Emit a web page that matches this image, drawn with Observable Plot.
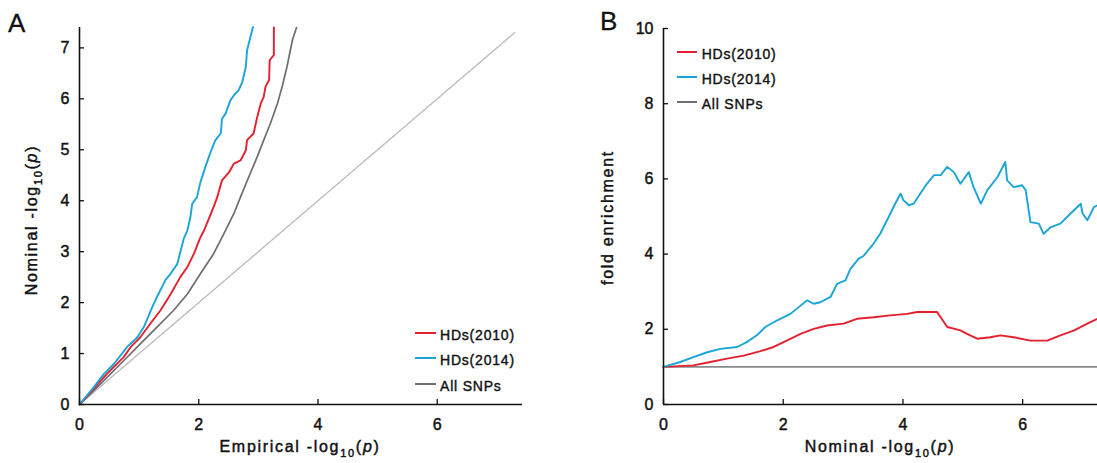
<!DOCTYPE html>
<html><head><meta charset="utf-8">
<script src="https://cdn.jsdelivr.net/npm/d3@7"></script>
<script src="https://cdn.jsdelivr.net/npm/@observablehq/plot@0.6"></script>
<style>
html,body{margin:0;padding:0;background:#fff;}
#wrap{position:relative;width:1097px;height:463px;overflow:hidden;font-family:"Liberation Sans",Arial,sans-serif;color:#111;}
.panel{position:absolute;top:0;}
.panel text{stroke:#111;stroke-width:0.45px;}
.letter{position:absolute;font-size:26px;line-height:26px;-webkit-text-stroke:0.3px #111;}
.sw{position:absolute;height:2px;}
.lt{position:absolute;font-size:14px;line-height:14px;letter-spacing:0.8px;white-space:nowrap;-webkit-text-stroke:0.4px #111;}
</style></head><body><div id="wrap"></div>
<script>
// ---------- Panel A: QQ curves (x = empirical -log10 p, y = nominal -log10 p)
const qqEmp2014 = [0,0.24,0.41,0.58,0.80,0.97,1.08,1.22,1.30,1.44,1.53,1.64,1.75,1.81,1.86,1.89,1.97,2.03,2.11,2.17,2.23,2.28,2.37,2.39,2.45,2.53,2.59,2.67,2.73,2.79,2.81,2.84,2.91];
const qqNom2014 = [0,0.34,0.60,0.80,1.13,1.32,1.52,1.91,2.11,2.44,2.57,2.76,3.26,3.42,3.68,3.94,4.07,4.37,4.66,4.86,5.05,5.19,5.32,5.61,5.71,5.97,6.07,6.17,6.33,6.63,6.95,7.09,7.41];
const qqEmp2010 = [0,0.46,0.74,0.86,1.02,1.19,1.36,1.53,1.69,1.81,1.92,2.02,2.09,2.17,2.25,2.31,2.39,2.51,2.59,2.70,2.79,2.81,2.92,2.98,3.04,3.09,3.12,3.18,3.19,3.26,3.26];
const qqNom2010 = [0,0.60,0.93,1.13,1.32,1.59,1.85,2.17,2.50,2.70,2.96,3.26,3.42,3.65,3.88,4.07,4.40,4.56,4.73,4.79,4.99,5.19,5.32,5.64,5.91,6.04,6.24,6.37,6.76,6.86,7.40];
const qqEmpAll = [0,0.35,0.69,1.02,1.30,1.58,1.81,2.03,2.25,2.42,2.59,2.70,2.84,2.98,3.09,3.20,3.32,3.40,3.48,3.57,3.64];
const qqNomAll = [0,0.40,0.80,1.19,1.52,1.85,2.17,2.57,2.96,3.35,3.75,4.07,4.47,4.86,5.19,5.51,5.91,6.24,6.63,7.15,7.40];
const nullLine = [0,7.3];

// ---------- Panel B: fold enrichment vs nominal -log10 p
const feX2014 = [0,0.28,0.50,0.73,0.95,1.23,1.39,1.56,1.70,1.90,2.12,2.26,2.40,2.51,2.62,2.79,2.90,3.04,3.12,3.26,3.34,3.51,3.62,3.79,3.87,3.96,4.01,4.10,4.18,4.29,4.40,4.52,4.63,4.74,4.85,4.96,5.10,5.18,5.30,5.41,5.58,5.71,5.74,5.85,5.99,6.05,6.13,6.27,6.35,6.47,6.63,6.80,6.97,7.00,7.08,7.19,7.25];
const feY2014 = [1.0,1.13,1.26,1.39,1.48,1.53,1.66,1.84,2.06,2.24,2.41,2.59,2.77,2.68,2.72,2.86,3.21,3.30,3.60,3.88,3.95,4.28,4.54,5.08,5.34,5.61,5.43,5.30,5.34,5.61,5.87,6.10,6.10,6.32,6.18,5.87,6.18,5.78,5.34,5.70,6.05,6.45,5.96,5.78,5.83,5.70,4.85,4.81,4.54,4.72,4.81,5.08,5.34,5.08,4.90,5.25,5.30];
const feX2010 = [0,0.50,0.78,1.06,1.34,1.62,1.84,2.06,2.29,2.51,2.73,3.01,3.23,3.51,3.79,4.07,4.24,4.57,4.63,4.74,4.96,5.07,5.24,5.46,5.63,5.85,6.13,6.41,6.63,6.86,7.08,7.25];
const feY2010 = [1.0,1.04,1.13,1.22,1.30,1.42,1.53,1.70,1.88,2.01,2.10,2.15,2.28,2.32,2.37,2.41,2.46,2.46,2.32,2.06,1.97,1.88,1.75,1.79,1.84,1.79,1.70,1.70,1.84,1.97,2.15,2.28];
const feXAll = [0,7.25];
const feYAll = [1,1];

// ---------- ticks & labels
const aXTicks = [0,2,4,6];
const aYTicks = [0,1,2,3,4,5,6,7];
const bXTicks = [0,2,4,6];
const bYTicks = [0,2,4,6,8,10];
const seriesNames = ["HDs(2010)","HDs(2014)","All SNPs"];
const seriesColors = ["#e5202e","#1aa5d6","#6e6e6e"];
const nullColor = "#bdbdbd";

const FONT = '"Liberation Sans", Arial, sans-serif';
const H = 463;
const zip = (xs, ys) => xs.map((x,i)=>({x, y: ys[i]}));

function axisLabel(svg, x, y, rotate, parts){
  const t = d3.select(svg).append("text")
    .attr("transform", `translate(${x},${y})` + (rotate ? " rotate(-90)" : ""))
    .attr("text-anchor","middle").attr("font-family",FONT).attr("font-size",16)
    .attr("letter-spacing","1.7px").attr("fill","#111");
  for (const p of parts) {
    const s = t.append("tspan").text(p.t);
    if (p.sub) s.attr("font-size",11).attr("dy",5);
    if (p.up) s.attr("dy",-5);
    if (p.it) s.attr("font-style","italic");
  }
}
const logParts = (pre) => [{t: pre + " -log"},{t:"10",sub:true},{t:"(",up:true},{t:"p",it:true},{t:")"}];

function panel({width, ml, mr, mt, mb, xdom, ydom, xt, yt, marks}){
  const fw = width-ml-mr, fh = H-mt-mb;
  return Plot.plot({
    width, height: H, marginLeft: ml, marginRight: mr, marginTop: mt, marginBottom: mb,
    style: {fontFamily: FONT, fontSize: "16px", color: "#111", background: "transparent", overflow: "visible"},
    x: {domain: xdom}, y: {domain: ydom},
    marks: [
      ...marks,
      Plot.ruleX([0], {stroke: "#111", strokeWidth: 1.6}),
      Plot.ruleY([0], {stroke: "#111", strokeWidth: 1.6}),
      Plot.tickY(yt, {y: d=>d, insetRight: fw-5, stroke: "#111", strokeWidth: 1.3}),
      Plot.tickX(xt, {x: d=>d, insetTop: fh-5, stroke: "#111", strokeWidth: 1.3}),
      Plot.axisX({ticks: xt, tickSize: 0, tickPadding: 14, fontSize: 16, label: null}),
      Plot.axisY({ticks: yt, tickSize: 0, tickPadding: 10, fontSize: 16, label: null})
    ]
  });
}

const wrap = document.getElementById("wrap");

// Panel A
const svgA = panel({
  width: 560, ml: 79, mr: 38, mt: 27, mb: 59, xdom: [0,7.43], ydom: [0,7.4], xt: aXTicks, yt: aYTicks,
  marks: [
    Plot.line(zip(nullLine, nullLine), {x:"x", y:"y", stroke: nullColor, strokeWidth: 1.4, strokeDasharray: "3 1"}),
    Plot.line(zip(qqEmpAll, qqNomAll), {x:"x", y:"y", stroke: seriesColors[2], strokeWidth: 1.7}),
    Plot.line(zip(qqEmp2010, qqNom2010), {x:"x", y:"y", stroke: seriesColors[0], strokeWidth: 1.9}),
    Plot.line(zip(qqEmp2014, qqNom2014), {x:"x", y:"y", stroke: seriesColors[1], strokeWidth: 1.9})
  ]
});
svgA.classList.add("panel"); svgA.style.left = "0px";
axisLabel(svgA, 300, 452, false, logParts("Empirical"));
axisLabel(svgA, 36.5, 220, true, logParts("Nominal"));
wrap.appendChild(svgA);

// Panel B
const svgB = panel({
  width: 537, ml: 103, mr: 0, mt: 28, mb: 59, xdom: [0,7.25], ydom: [0,10], xt: bXTicks, yt: bYTicks,
  marks: [
    Plot.line(zip(feXAll, feYAll), {x:"x", y:"y", stroke: "#8a8a8a", strokeWidth: 1.6}),
    Plot.line(zip(feX2010, feY2010), {x:"x", y:"y", stroke: seriesColors[0], strokeWidth: 1.9}),
    Plot.line(zip(feX2014, feY2014), {x:"x", y:"y", stroke: seriesColors[1], strokeWidth: 1.9})
  ]
});
svgB.classList.add("panel"); svgB.style.left = "560px";
axisLabel(svgB, 320, 452, false, logParts("Nominal"));
axisLabel(svgB, 53, 217.5, true, [{t:"fold enrichment"}]);
wrap.appendChild(svgB);

// Panel letters
function letter(t, left, top){ const d=document.createElement("div"); d.className="letter"; d.textContent=t; d.style.left=left+"px"; d.style.top=top+"px"; wrap.appendChild(d); }
letter("A", 8, 9.6);
letter("B", 600, 8.3);

// Legends
function legend(x0, x1, xt, ys){
  seriesNames.forEach((name, i) => {
    const s = document.createElement("div"); s.className="sw";
    s.style.left = x0+"px"; s.style.width=(x1-x0)+"px"; s.style.top=(ys[i]-1)+"px"; s.style.background=seriesColors[i];
    wrap.appendChild(s);
    const t = document.createElement("div"); t.className="lt"; t.textContent=name;
    t.style.left = xt+"px"; t.style.top=(ys[i]-4.85)+"px";
    wrap.appendChild(t);
  });
}
legend(415, 436, 440, [333.3, 358.3, 384.3]);
legend(677, 697, 701.7, [51.7, 76.7, 101.7]);
</script></body></html>
